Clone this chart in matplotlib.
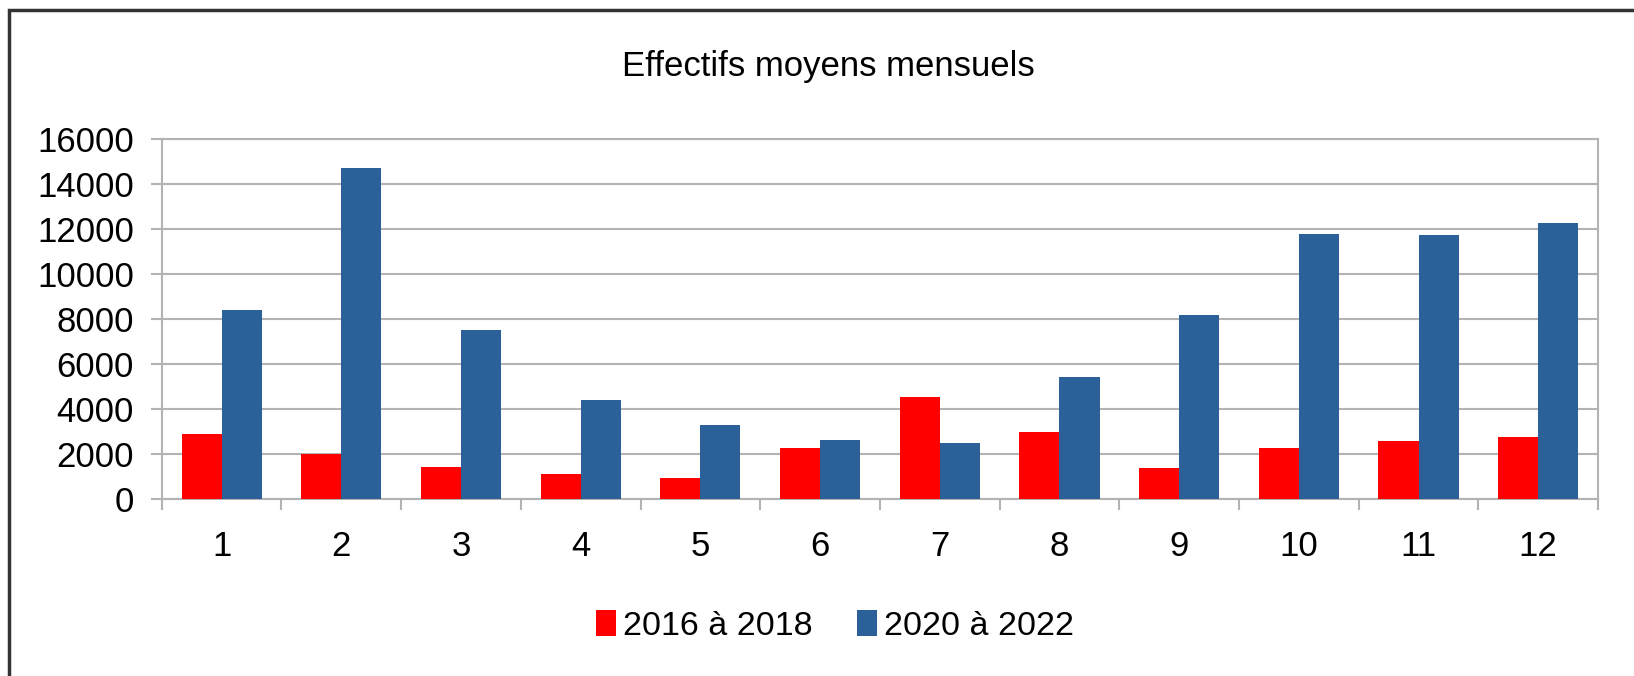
import matplotlib
matplotlib.use("Agg")
import matplotlib.pyplot as plt
import numpy as np
from matplotlib.patches import Rectangle

# monthly averages
months = [1, 2, 3, 4, 5, 6, 7, 8, 9, 10, 11, 12]
eff_2016_2018 = [2870, 2010, 1405, 1095, 915, 2260, 4510, 2970, 1390, 2260, 2560, 2750]
eff_2020_2022 = [8400, 14700, 7510, 4405, 3300, 2630, 2485, 5440, 8180, 11770, 11710, 12270]
labels = ["2016 à 2018", "2020 à 2022"]
colors = ["#ff0000", "#2c6099"]

plt.rcParams["font.family"] = ["Liberation Sans", "DejaVu Sans"]

fig = plt.figure(figsize=(16.34, 6.76), dpi=100)
ax = fig.add_axes([0.099, 0.2618, 0.879, 0.533])

x = np.arange(len(months))
w = 0.335
ax.bar(x - w / 2, eff_2016_2018, width=w, color=colors[0], label=labels[0], zorder=3)
ax.bar(x + w / 2, eff_2020_2022, width=w, color=colors[1], label=labels[1], zorder=3)

grey = "#b3b3b3"
ax.set_ylim(0, 16000)
ax.set_yticks(range(0, 16001, 2000))
ax.set_xlim(-0.5, len(months) - 0.5)
ax.set_xticks(x)
ax.set_xticklabels([str(m) for m in months])
ax.set_xticks(np.arange(len(months) + 1) - 0.5, minor=True)
ax.grid(axis="y", color=grey, linewidth=1.5, zorder=0)
for s in ax.spines.values():
    s.set_color(grey)
    s.set_linewidth(1.5)
ax.tick_params(axis="x", which="major", length=0, pad=22, labelsize=25)
ax.tick_params(axis="x", which="minor", length=8, width=1.5, color=grey)
ax.tick_params(axis="y", length=8, width=1.5, color=grey, pad=12, labelsize=25)

fig.text(0.507, 0.902, "Effectifs moyens mensuels", ha="center", va="center", fontsize=25)

fig.legend(loc="center", bbox_to_anchor=(0.511, 0.074), ncol=2, frameon=False,
           fontsize=24.5, handlelength=0.6, handleheight=0.8, handletextpad=0.2,
           columnspacing=1.3)

# outer chart frame (only left and top edges are in view)
fig.add_artist(Rectangle((9 / 1634, -0.1), 1.2, 1 - 10 / 676 + 0.1,
                         transform=fig.transFigure, fill=False,
                         edgecolor="#333333", linewidth=2.5))

fig.savefig("out.png", dpi=100)
